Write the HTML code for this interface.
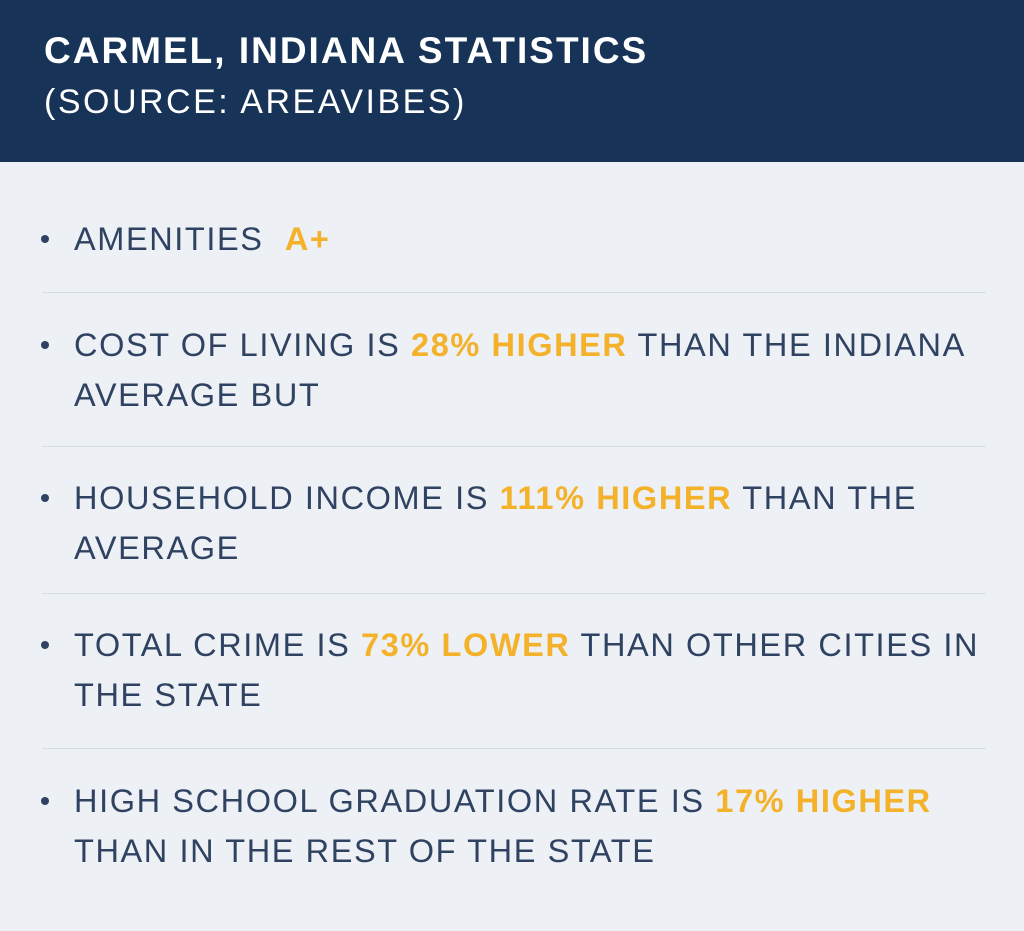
<!DOCTYPE html>
<html><head><meta charset="utf-8"><style>
html,body{margin:0;padding:0;}
body{width:1024px;height:931px;background:#edf0f5;position:relative;overflow:hidden;font-family:"Liberation Sans",sans-serif;}
.hdr{position:absolute;left:0;top:0;width:1024px;height:162px;background:#173458;}
.t1{position:absolute;left:44px;top:29px;font-size:37px;letter-spacing:2px;font-weight:bold;color:#fff;line-height:44px;white-space:nowrap;}
.t2{position:absolute;left:44px;top:80px;font-size:34px;letter-spacing:2.5px;color:#fff;line-height:44px;white-space:nowrap;}
.item{position:absolute;left:74px;width:940px;font-size:32.5px;letter-spacing:1.6px;line-height:50px;color:#2f4261;white-space:nowrap;}
.item b{color:#f4b12a;}
.dot{position:absolute;left:-33px;top:21px;width:8px;height:8px;border-radius:50%;background:#2f4261;}
.sep{position:absolute;left:42px;width:944px;height:1px;background:#d6dae1;}
</style></head><body>
<div class="hdr">
<div class="t1">CARMEL, INDIANA STATISTICS</div>
<div class="t2">(SOURCE: AREAVIBES)</div>
</div>
<div class="item" style="top:214px"><span class="dot"></span>AMENITIES &nbsp;<b>A+</b></div>
<div class="sep" style="top:292px"></div>
<div class="item" style="top:320px"><span class="dot"></span>COST OF LIVING IS <b>28% HIGHER</b> THAN THE INDIANA<br>AVERAGE BUT</div>
<div class="sep" style="top:446px"></div>
<div class="item" style="top:473px"><span class="dot"></span>HOUSEHOLD INCOME IS <b>111% HIGHER</b> THAN THE<br>AVERAGE</div>
<div class="sep" style="top:593px"></div>
<div class="item" style="top:620px"><span class="dot"></span>TOTAL CRIME IS <b>73% LOWER</b> THAN OTHER CITIES IN<br>THE STATE</div>
<div class="sep" style="top:748px"></div>
<div class="item" style="top:776px"><span class="dot"></span>HIGH SCHOOL GRADUATION RATE IS <b>17% HIGHER</b><br>THAN IN THE REST OF THE STATE</div>
</body></html>
